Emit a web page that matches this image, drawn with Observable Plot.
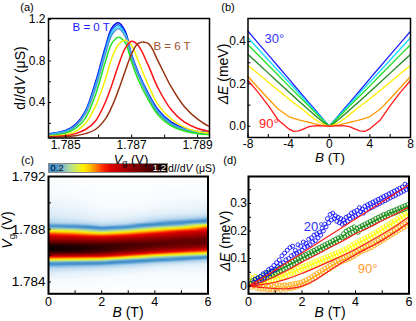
<!DOCTYPE html>
<html><head><meta charset="utf-8">
<script src="https://cdn.jsdelivr.net/npm/d3@7"></script>
<script src="https://cdn.jsdelivr.net/npm/@observablehq/plot@0.6"></script>
<style>
html,body{margin:0;padding:0;background:#fff;}
#fig{position:relative;width:416px;height:321px;overflow:hidden;font-family:"Liberation Sans",Arial,Helvetica,sans-serif;color:#000;}
.pl{position:absolute;}
.pl svg{overflow:visible;}
.t{position:absolute;white-space:nowrap;line-height:1;transform:translate(-50%,-50%);}
.t.r{transform:translate(-50%,-50%) rotate(-90deg);}
.t.l{transform:translate(0,-50%);}
.t sub{font-size:70%;vertical-align:-0.3em;line-height:0;}
</style></head><body><div id="fig"></div>
<script>
// ---------------- (a) dI/dV vs Vg curves ----------------
const aVg = [1.7845,1.7850,1.7853,1.7856,1.7859,1.7862,1.7864,1.7866,1.7868,1.7870,1.7872,1.7875,1.7878,1.7882,1.7886,1.7890,1.7894];
const aCurve1 = [0.100,0.130,0.190,0.320,0.590,0.930,1.120,1.170,1.090,0.860,0.690,0.490,0.330,0.210,0.150,0.120,0.110];
const aCurve2 = [0.095,0.125,0.180,0.310,0.570,0.910,1.100,1.150,1.070,0.850,0.680,0.480,0.320,0.200,0.145,0.115,0.105];
const aCurve3 = [0.090,0.120,0.175,0.300,0.550,0.880,1.070,1.130,1.060,0.840,0.670,0.470,0.310,0.195,0.140,0.110,0.100];
const aCurve4 = [0.085,0.115,0.170,0.290,0.530,0.860,1.050,1.110,1.040,0.830,0.660,0.460,0.300,0.190,0.135,0.105,0.095];
const aCurve5 = [0.080,0.105,0.150,0.250,0.470,0.790,0.970,1.030,0.980,0.790,0.620,0.430,0.280,0.175,0.125,0.100,0.090];
const aCurve6 = [0.075,0.090,0.120,0.200,0.360,0.620,0.830,0.960,1.000,0.950,0.800,0.570,0.380,0.240,0.160,0.120,0.105];
const aCurve7 = [0.070,0.080,0.100,0.140,0.220,0.400,0.570,0.760,0.920,0.990,0.950,0.760,0.540,0.330,0.210,0.150,0.120];
const aCurve8 = [0.065,0.070,0.080,0.100,0.140,0.240,0.360,0.520,0.700,0.870,0.970,0.970,0.800,0.550,0.360,0.240,0.160];
const aNames = ["c1","c2","c3","c4","c5","c6","c7","c8"];
const aXTicks = [1.785,1.787,1.789];
const aYTicks = [0.4,0.8,1.2];

// ---------------- (b) ΔE vs B, angles 30°..90° ----------------
const bB = [0,0.5,1,1.5,2,2.5,3,3.5,4,5,6,7,8];
const b30 = [0,0.028,0.056,0.084,0.112,0.140,0.168,0.196,0.225,0.281,0.337,0.393,0.449];
const b40 = [0,0.026,0.052,0.078,0.104,0.130,0.157,0.183,0.209,0.261,0.313,0.366,0.418];
const b50 = [0,0.023,0.047,0.071,0.095,0.119,0.143,0.167,0.191,0.240,0.288,0.337,0.385];
const b60 = [0,0.016,0.036,0.056,0.077,0.098,0.119,0.141,0.163,0.207,0.251,0.295,0.339];
const b70 = [0,0.008,0.020,0.036,0.055,0.074,0.093,0.111,0.130,0.169,0.208,0.248,0.287];
const b80 = [0,0.003,0.007,0.012,0.019,0.024,0.030,0.037,0.046,0.080,0.130,0.182,0.235];
const b90 = [0,0.002,0.003,0.002,-0.002,-0.012,-0.022,-0.024,-0.012,0.028,0.098,0.160,0.216];
const bNames = ["30","40","50","60","70","80","90"];
const bXTicks = [-8,-4,0,4,8];
const bYTicks = [0,0.2,0.4];

// ---------------- (c) dI/dV map (B, Vg) ----------------
const hmB = [0,1,2,3,4,5,6];
const hmVg = [1.7831,1.7840,1.7846,1.7850,1.7853,1.7855,1.7857,1.7859,1.7861,1.7863,1.7865,1.7867,1.7869,1.7871,1.7873,1.7875,1.7877,1.7879,1.7881,1.7883,1.7885,1.7888,1.7892,1.7897,1.7904,1.7912,1.7920];
const hm0 = [0.02,0.05,0.09,0.14,0.20,0.30,0.50,0.68,0.95,1.12,1.18,1.16,1.08,0.95,0.84,0.73,0.62,0.48,0.33,0.20,0.15,0.12,0.10,0.08,0.06,0.04,0.02];
const hm1 = [0.02,0.05,0.08,0.13,0.19,0.28,0.47,0.66,0.92,1.10,1.15,1.14,1.06,0.93,0.82,0.70,0.58,0.44,0.30,0.19,0.14,0.11,0.09,0.07,0.05,0.03,0.02];
const hm2 = [0.02,0.04,0.07,0.12,0.18,0.26,0.44,0.64,0.88,1.04,1.10,1.10,1.04,0.92,0.80,0.66,0.50,0.34,0.22,0.15,0.12,0.09,0.07,0.05,0.03,0.02,0.01];
const hm3 = [0.01,0.03,0.06,0.10,0.15,0.21,0.32,0.52,0.72,0.92,1.02,1.05,1.04,0.96,0.85,0.71,0.58,0.42,0.28,0.18,0.13,0.10,0.07,0.05,0.03,0.02,0.01];
const hm4 = [0.01,0.03,0.05,0.08,0.12,0.17,0.24,0.38,0.58,0.78,0.93,1.01,1.02,0.98,0.90,0.80,0.68,0.55,0.40,0.26,0.18,0.13,0.09,0.06,0.04,0.02,0.01];
const hm5 = [0.01,0.03,0.05,0.07,0.10,0.14,0.20,0.30,0.48,0.67,0.85,0.96,1.00,1.00,0.95,0.87,0.77,0.66,0.50,0.34,0.22,0.15,0.10,0.07,0.05,0.03,0.02];
const hm6 = [0.01,0.03,0.05,0.07,0.09,0.12,0.16,0.23,0.40,0.58,0.75,0.90,0.98,1.00,0.98,0.92,0.84,0.74,0.66,0.50,0.30,0.18,0.11,0.08,0.05,0.03,0.02];
const cbTicks = [0.2,1.2];
const cXTicks = [0,2,4,6];
const cYTicks = [1.784,1.788,1.792];

// ---------------- (d) ΔE vs B data + fits ----------------
const dStep = 0.05;
const dBlueStart = 0.2, dGreenStart = 0.1, dYellowStart = 0, dOrangeStart = 0;
const dBlue = [0.015,0.025,0.010,0.030,0.020,0.035,0.025,0.045,0.030,0.050,0.040,0.060,0.045,0.065,0.055,0.075,
 0.060,0.085,0.070,0.095,0.080,0.110,0.085,0.120,0.095,0.130,0.100,0.140,0.110,0.145,0.115,0.130,0.120,0.150,0.125,0.145,
 0.130,0.160,0.140,0.155,0.145,0.170,0.150,0.175,0.160,0.185,0.165,0.190,0.175,0.195,0.185,0.210,0.200,0.225,0.215,0.245,
 0.230,0.260,0.240,0.265,0.245,0.255,0.235,0.250,0.230,0.245,0.225,0.240,0.230,0.250,0.235,0.255,0.245,0.265,0.250,0.270,
 0.255,0.275,0.260,0.285,0.270,0.280,0.265,0.290,0.275,0.295,0.280,0.300,0.285,0.305,0.290,0.310,0.295,0.315,0.300,0.320,
 0.305,0.325,0.310,0.330,0.315,0.335,0.320,0.340,0.325,0.345,0.330,0.350,0.335,0.355,0.340,0.360,0.345,0.370,0.350,0.365,
 0.355];
const dGreen = [0.010,0.020,0.005,0.025,0.015,0.030,0.020,0.035,0.020,0.040,0.025,0.045,0.030,0.050,0.035,0.055,0.040,0.055,
 0.045,0.060,0.050,0.065,0.055,0.070,0.060,0.075,0.065,0.080,0.070,0.085,0.075,0.090,0.080,0.095,0.085,0.100,0.090,0.105,
 0.095,0.110,0.100,0.115,0.105,0.120,0.110,0.125,0.115,0.130,0.120,0.135,0.125,0.140,0.130,0.145,0.135,0.150,0.140,0.155,
 0.145,0.160,0.150,0.165,0.155,0.170,0.160,0.175,0.165,0.180,0.175,0.190,0.180,0.200,0.185,0.205,0.190,0.210,0.195,0.215,
 0.200,0.210,0.195,0.215,0.205,0.220,0.210,0.225,0.215,0.230,0.220,0.235,0.225,0.240,0.230,0.245,0.235,0.250,0.240,0.255,
 0.245,0.260,0.250,0.262,0.255,0.268,0.260,0.272,0.262,0.276,0.266,0.280,0.270,0.284,0.274,0.288,0.278,0.292,0.282,0.296,
 0.286];
const dYellow = [0.020,0.035,0.010,0.030,0.015,0.035,0.010,0.025,0.015,0.030,0.010,0.025,0.015,0.030,0.015,0.030,0.020,0.035,0.020,0.035,
 0.020,0.035,0.025,0.040,0.030,0.045,0.030,0.045,0.035,0.050,0.040,0.055,0.045,0.055,0.045,0.060,0.050,0.065,0.055,0.070,
 0.060,0.072,0.062,0.076,0.066,0.080,0.070,0.084,0.074,0.088,0.078,0.092,0.082,0.096,0.086,0.100,0.090,0.104,0.094,0.108,
 0.098,0.112,0.102,0.116,0.106,0.120,0.110,0.124,0.114,0.128,0.118,0.132,0.122,0.136,0.128,0.142,0.134,0.148,0.140,0.154,
 0.146,0.160,0.150,0.164,0.156,0.170,0.160,0.174,0.166,0.180,0.170,0.184,0.176,0.190,0.182,0.196,0.188,0.202,0.194,0.208,
 0.200,0.214,0.206,0.220,0.212,0.226,0.218,0.232,0.224,0.238,0.230,0.244,0.236,0.250,0.242,0.256,0.248,0.262,0.254,0.268,
 0.260];
const dOrange = [0.000,0.010,-0.005,0.012,0.000,0.008,-0.008,0.005,-0.010,0.004,-0.012,0.002,-0.010,0.006,-0.014,0.000,-0.012,0.004,-0.015,0.000,
 -0.012,0.006,-0.010,0.004,-0.015,0.002,-0.010,0.005,-0.012,0.003,-0.008,0.006,-0.010,0.008,-0.006,0.010,-0.004,0.012,0.000,0.014,
 0.004,0.018,0.008,0.022,0.012,0.028,0.018,0.034,0.024,0.040,0.030,0.046,0.036,0.052,0.042,0.058,0.048,0.064,0.054,0.070,
 0.060,0.076,0.066,0.082,0.072,0.088,0.078,0.094,0.084,0.098,0.088,0.102,0.092,0.106,0.096,0.110,0.100,0.114,0.106,0.120,
 0.112,0.126,0.118,0.132,0.124,0.138,0.128,0.142,0.132,0.146,0.136,0.150,0.140,0.154,0.146,0.160,0.152,0.166,0.158,0.172,
 0.164,0.178,0.170,0.184,0.176,0.190,0.182,0.196,0.188,0.202,0.194,0.208,0.200,0.214,0.206,0.220,0.212,0.226,0.218,0.232,
 0.226];
const fitB = [0,0.5,1,1.5,2,2.5,3,3.5,4,4.5,5,5.5,6];
const fitBlue = [0,0.028,0.058,0.089,0.120,0.151,0.182,0.213,0.244,0.275,0.306,0.337,0.368];
const fitGreen = [0,0.015,0.035,0.060,0.087,0.112,0.138,0.163,0.190,0.213,0.238,0.262,0.287];
const fitYellow = [0,0.005,0.014,0.028,0.046,0.066,0.088,0.110,0.134,0.160,0.188,0.218,0.252];
const fitOrange = [0,-0.005,-0.009,-0.009,0.000,0.022,0.055,0.086,0.114,0.140,0.166,0.197,0.232];
const dXTicks = [0,2,4,6];
const dYTicks = [0,0.1,0.2,0.3];

// ---------------- styles ----------------
const aColors = ["#0000ee","#2266ff","#22ddff","#5a92d0","#22e622","#f2f200","#ff1111","#993311"];
const bColors = ["#2020ff","#11ddff","#22dd22","#1f8a1f","#ffee00","#ff9900","#ff1a1a"];
const cmapDomain = [0,0.05,0.1,0.15,0.21,0.27,0.32,0.37,0.43,0.49,0.55,0.60,0.65,0.72,0.88,1.05,1.2];
const cmapRange = ["#ffffff","#f7fbfe","#e0eef8","#b4d5ee","#3d8dcc","#4d96c8","#7dbad2","#a9d8a0","#d2ec58","#fff200","#ffc000","#ff8000","#ff3000","#e00000","#9a0000","#4a0000","#000000"];
const baseStyle = {background:"transparent", overflow:"visible", fontFamily:"'Liberation Sans',Arial,sans-serif", fontSize:"12px", color:"#000"};

const fig = document.getElementById("fig");
function place(el, left, top){ const d=document.createElement("div"); d.className="pl"; d.style.left=left+"px"; d.style.top=top+"px"; d.appendChild(el); fig.appendChild(d); }
function label(html, x, y, size, cls){ const d=document.createElement("div"); d.className="t"+(cls?" "+cls:""); d.style.left=x+"px"; d.style.top=y+"px"; d.style.fontSize=size+"px"; d.innerHTML=html; fig.appendChild(d); }
function axes(o){
  return [
    Plot.axisX(o.xt,{tickSize:0,tickPadding:o.xpad,label:null,tickFormat:o.xf,fontSize:o.xfs||12}),
    Plot.axisY(o.yt,{tickSize:0,tickPadding:o.ypad,label:null,tickFormat:o.yf,fontSize:o.yfs||12}),
    Plot.axisX(o.xm,{tickSize:-3,tickFormat:()=>"",label:null}),
    Plot.axisY(o.ym,{tickSize:-3,tickFormat:()=>"",label:null}),
    Plot.frame({stroke:"#000",strokeWidth:o.fw})
  ];
}

// (a)
const aSeries = [aCurve1,aCurve2,aCurve3,aCurve4,aCurve5,aCurve6,aCurve7,aCurve8];
const aRows = [];
aSeries.forEach((s,k)=>aVg.forEach((vg,i)=>aRows.push({vg, v:s[i], c:aNames[k]})));
place(Plot.plot({
  width:212, height:160, marginLeft:48, marginRight:3, marginTop:18, marginBottom:22.5,
  style:baseStyle,
  x:{domain:[1.78448,1.78936]}, y:{domain:[0.058,1.21]},
  color:{domain:aNames, range:aColors},
  marks:[
    Plot.line(aRows,{x:"vg",y:"v",z:"c",stroke:"c",strokeWidth:1.5,curve:"catmull-rom",clip:true}),
    Plot.text(["B = 0 T"],{x:[1.78521],y:[1.123],text:d=>d,textAnchor:"start",fill:"#1a1aff",fontSize:11.5}),
    Plot.text(["B = 6 T"],{x:[1.78766],y:[0.94],text:d=>d,textAnchor:"start",fill:"#a0522d",fontSize:11.5}),
    ...axes({xt:aXTicks,yt:aYTicks,xf:d3.format(".3f"),yf:d3.format(".1f"),xpad:2,ypad:3,
      xm:[1.785,1.786,1.787,1.788,1.789],ym:[0.2,0.4,0.6,0.8,1.0,1.2],fw:1.5})
  ]
}),0,0);

// (b)
const bSeries = [b30,b40,b50,b60,b70,b80,b90];
const bRows = [];
bSeries.forEach((s,k)=>{
  for(let i=bB.length-1;i>0;i--) bRows.push({B:-bB[i], v:s[i], c:bNames[k]});
  for(let i=0;i<bB.length;i++) bRows.push({B:bB[i], v:s[i], c:bNames[k]});
});
place(Plot.plot({
  width:204, height:160, marginLeft:35.5, marginRight:6, marginTop:18, marginBottom:23,
  style:baseStyle,
  x:{domain:[-8,8]}, y:{domain:[-0.053,0.509]},
  color:{domain:bNames, range:bColors},
  marks:[
    Plot.line(bRows,{x:"B",y:"v",z:"c",stroke:"c",strokeWidth:1.3,curve:"linear"}),
    Plot.text(["30°"],{x:[-5.4],y:[0.415],text:d=>d,fill:"#3333ff",fontSize:13}),
    Plot.text(["90°"],{x:[-5.95],y:[0.013],text:d=>d,fill:"#ff2222",fontSize:13}),
    ...axes({xt:bXTicks,yt:bYTicks,xf:d=>String(d),yf:d3.format(".1f"),xpad:1.5,ypad:2,
      xm:[-8,-6,-4,-2,0,2,4,6,8],ym:[0,0.1,0.2,0.3,0.4],fw:1.5})
  ]
}),212,0);

// (c) heatmap
const hmCols = [hm0,hm1,hm2,hm3,hm4,hm5,hm6];
const hmRows = [];
hmB.forEach((b,k)=>hmVg.forEach((vg,i)=>hmRows.push({B:b, Vg:vg, v:hmCols[k][i]})));
const cmap = {type:"linear", domain:cmapDomain, range:cmapRange, interpolate:"rgb", clamp:true};
place(Plot.plot({
  width:212, height:149, marginLeft:48, marginRight:4.5, marginTop:4, marginBottom:27.7,
  style:baseStyle,
  x:{domain:[0,6]}, y:{domain:[1.7831,1.792]},
  color:cmap,
  marks:[
    Plot.raster(hmRows,{x:"B",y:"Vg",fill:"v",interpolate:"barycentric"}),
    ...axes({xt:cXTicks,yt:cYTicks,xf:d=>String(d),yf:d3.format(".3f"),xpad:3,ypad:3,yfs:13.5,xfs:12.5,
      xm:[0,1,2,3,4,5,6],ym:[1.784,1.786,1.788,1.790,1.792],fw:2})
  ]
}),0,172);

// colorbar
place(Plot.plot({
  width:119, height:9, margin:0,
  style:baseStyle,
  x:{domain:[0.2,1.2],axis:null}, y:{domain:[0,1],axis:null},
  color:cmap,
  marks:[
    Plot.raster({fill:(x,y)=>x, x1:0.2, x2:1.2, y1:0, y2:1}),
    Plot.frame({stroke:"#8a8a8a",strokeWidth:1}),
    Plot.text(cbTicks.slice(0,1),{x:d=>d,y:[0.5],text:d=>d.toFixed(1),textAnchor:"start",dx:2,fill:"#111",fontSize:9.5}),
    Plot.text(cbTicks.slice(1),{x:d=>d,y:[0.5],text:d=>d.toFixed(1),textAnchor:"end",dx:-1.5,fill:"#fff",fontSize:9.5})
  ]
}),48,163);

// (d)
const dRows = [];
function addD(arr,start,name){ arr.forEach((v,i)=>dRows.push({B:start+i*dStep, v, c:name})); }
addD(dYellow,dYellowStart,"yellow");
addD(dOrange,dOrangeStart,"orange");
addD(dGreen,dGreenStart,"green");
addD(dBlue,dBlueStart,"blue");
const fitRows = [];
[[fitBlue,"blue"],[fitGreen,"green"],[fitYellow,"yellow"],[fitOrange,"orange"]].forEach(([s,n])=>fitB.forEach((b,i)=>fitRows.push({B:b,v:s[i],c:n})));
place(Plot.plot({
  width:204, height:149, marginLeft:36, marginRight:7.5, marginTop:4, marginBottom:27.7,
  style:baseStyle,
  x:{domain:[0,6]}, y:{domain:[-0.028,0.398]},
  color:{domain:["blue","green","yellow","orange"], range:["#2a2aff","#2a8a2a","#f0ea00","#ff9a33"]},
  marks:[
    Plot.dot(dRows,{x:"B",y:"v",stroke:"c",r:2,strokeWidth:0.8,fill:"none",clip:true}),
    Plot.line(fitRows,{x:"B",y:"v",z:"c",stroke:"#ff1a1a",strokeWidth:1.2,curve:"catmull-rom"}),
    Plot.text(["20°"],{x:[2.43],y:[0.216],text:d=>d,fill:"#2a2aff",fontSize:13}),
    Plot.text(["90°"],{x:[4.45],y:[0.064],text:d=>d,fill:"#ff9a33",fontSize:13}),
    ...axes({xt:dXTicks,yt:dYTicks,xf:d=>String(d),yf:d=>d===0?"0":d.toFixed(1),xpad:3,ypad:1.5,xfs:12.5,
      xm:[0,1,2,3,4,5,6],ym:[0,0.05,0.1,0.15,0.2,0.25,0.3,0.35],fw:2})
  ]
}),212,172);

// text labels (letters and axis titles)
label("(a)",27,7,11);
label("(b)",228,7,11);
label("(c)",27.5,159.5,11);
label("(d)",230,160,11);
label("d<i>I</i>/d<i>V</i> (μS)",20,78,14,"r");
label("<i>V</i><sub>g</sub> (V)",131,158.5,13);
label("<i>ΔE</i> (meV)",223,74,14,"r");
label("<i>B</i> (T)",330,158,13.5);
label("<i>V</i><sub>g</sub> (V)",7,230,14,"r");
label("<i>B</i> (T)",128,312,14);
label("<i>ΔE</i> (meV)",225,241,14,"r");
label("<i>B</i> (T)",330,312,14);
label("d<i>I</i>/d<i>V</i> (μS)",168,168,10.5,"l");
</script></body></html>
